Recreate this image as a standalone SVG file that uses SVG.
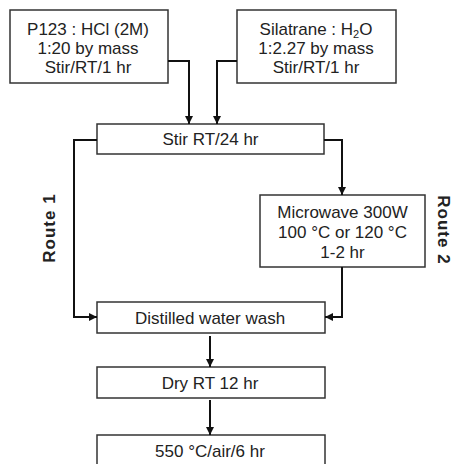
<svg xmlns="http://www.w3.org/2000/svg" width="454" height="464" viewBox="0 0 454 464">
<defs>
<marker id="ah" viewBox="0 0 10 10" refX="10" refY="5" markerWidth="4" markerHeight="4" orient="auto">
<path d="M0,0 L10,5 L0,10 z" fill="#111"/>
</marker>
<style>
.box{fill:#fff;stroke:#333;stroke-width:1.5}
.t{font-family:"Liberation Sans",Arial,sans-serif;font-size:17px;fill:#222;text-anchor:middle}
.r{font-family:"Liberation Sans",Arial,sans-serif;font-size:17px;font-weight:bold;letter-spacing:1px;fill:#222;text-anchor:middle}
.c{fill:none;stroke:#111;stroke-width:2;marker-end:url(#ah)}
</style>
</defs>
<rect width="454" height="464" fill="#fff"/>
<g id="n1"><rect class="box" x="10" y="10" width="158" height="73"/>
<text class="t" x="88" y="35">P123 : HCl (2M)</text>
<text class="t" x="88" y="54">1:20 by mass</text>
<text class="t" x="88" y="73">Stir/RT/1 hr</text></g>
<g id="n2"><rect class="box" x="237" y="10" width="159" height="73"/>
<text class="t" x="316" y="35">Silatrane : H<tspan font-size="11" dy="3">2</tspan><tspan dy="-3">O</tspan></text>
<text class="t" x="316" y="54">1:2.27 by mass</text>
<text class="t" x="316" y="73">Stir/RT/1 hr</text></g>
<g id="n3"><rect class="box" x="97" y="124" width="227" height="30"/>
<text class="t" x="210.5" y="145">Stir RT/24 hr</text></g>
<g id="n4"><rect class="box" x="260" y="195" width="165" height="72"/>
<text class="t" x="342.5" y="218">Microwave 300W</text>
<text class="t" x="342.5" y="238">100 °C or 120 °C</text>
<text class="t" x="342.5" y="258">1-2 hr</text></g>
<g id="n5"><rect class="box" x="97" y="302" width="228" height="31"/>
<text class="t" x="210" y="324">Distilled water wash</text></g>
<g id="n6"><rect class="box" x="97" y="367" width="228" height="31"/>
<text class="t" x="210" y="389">Dry RT 12 hr</text></g>
<g id="n7"><rect class="box" x="97" y="435" width="228" height="40"/>
<text class="t" x="210" y="457">550 °C/air/6 hr</text></g>
<g id="labels">
<text class="r" transform="translate(55,228) rotate(-90)">Route 1</text>
<text class="r" transform="translate(438,230) rotate(90)">Route 2</text>
</g>
<g id="connectors">
<path class="c" d="M168,61 H189 V124"/>
<path class="c" d="M237,61 H217 V124"/>
<path class="c" d="M97,140 H74 V317 H97"/>
<path class="c" d="M324,140 H342 V195"/>
<path class="c" d="M342,267 V317 H325"/>
<path class="c" d="M210,336 V367"/>
<path class="c" d="M210,400 V435"/>
</g>
</svg>
